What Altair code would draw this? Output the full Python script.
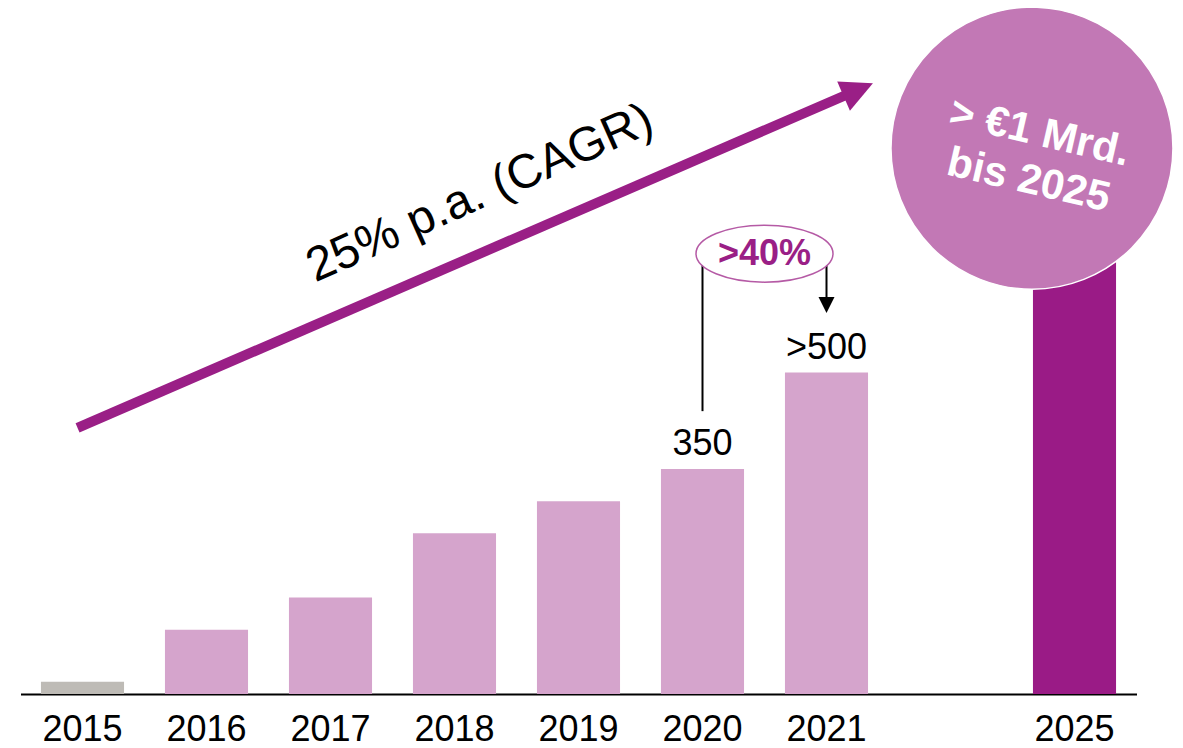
import altair as alt
import pandas as pd

# ---------------- data ----------------
years = ["2015", "2016", "2017", "2018", "2019", "2020", "2021", "2025"]
values = [19, 100, 150, 250, 300, 350, 500, 1000]
value_labels = ["", "", "", "", "", "350", ">500", ""]
bar_colors = ["#BEBBB6", "#D5A4CC", "#D5A4CC", "#D5A4CC", "#D5A4CC", "#D5A4CC", "#D5A4CC", "#9A1B86"]
slot_order = ["2015", "2016", "2017", "2018", "2019", "2020", "2021", " ", "2025"]

# annotation anchors in (slot, value) units
cagr_text = ["25% p.a. (CAGR)"]
cagr_pos = [3.706, 778]
arrow_tail = [0.46, 414]
arrow_head = [6.756, 940]
growth_text = [">40%"]
growth_pos = [6.0, 685]
conn_s = [5.5, 6.5]
conn_v = [670, 670]
conn_v2 = [440, 613]
conn_head = [6.5, 605]
target_pos = [8.157, 849]
target_text = ["> €1 Mrd.", "bis 2025"]

PURPLE = "#9A1F86"
FONT = "Liberation Sans"
W, H = 1116, 684
Y_MAX = 1064

bars_df = pd.DataFrame({"year": years, "value": values, "label": value_labels, "color": bar_colors})

y_scale = alt.Scale(domain=[0, Y_MAX], nice=False, zero=True)
band_scale = alt.Scale(domain=slot_order, paddingInner=0.33, paddingOuter=0.165)

x_band = alt.X(
    "year:N",
    sort=slot_order,
    scale=band_scale,
    axis=alt.Axis(
        title=None, labelAngle=0, ticks=False, tickSize=0, domainColor="#000000",
        domainWidth=2, labelFontSize=36, labelFont=FONT, labelColor="#000000",
        labelPadding=18, grid=False,
    ),
)

bars = alt.Chart(bars_df).mark_bar().encode(
    x=x_band,
    y=alt.Y("value:Q", scale=y_scale, axis=None),
    color=alt.Color("color:N", scale=None),
)

labels = alt.Chart(bars_df).transform_filter("datum.label != ''").mark_text(
    baseline="alphabetic", dy=-14, fontSize=36, font=FONT, color="#000000"
).encode(
    x=alt.X("year:N", sort=slot_order, scale=band_scale, axis=None),
    y=alt.Y("value:Q", scale=y_scale, axis=None),
    text="label:N",
)

def xs(field="s"):
    return alt.X(f"{field}:Q", scale=alt.Scale(domain=[0, 9], nice=False, zero=False), axis=None)

def yv(field="v"):
    return alt.Y(f"{field}:Q", scale=y_scale, axis=None)

# big arrow
shaft_df = pd.DataFrame({"s": [arrow_tail[0]], "v": [arrow_tail[1]], "s2": [arrow_head[0]], "v2": [arrow_head[1]]})
shaft = alt.Chart(shaft_df).mark_rule(strokeWidth=10, color=PURPLE, strokeCap="butt").encode(
    x=xs(), y=yv(), x2="s2:Q", y2="v2:Q"
)
head_df = pd.DataFrame({"s": [arrow_head[0]], "v": [arrow_head[1]]})
head = alt.Chart(head_df).mark_point(
    shape="M1,0L-1,-1L-1,1Z", size=1024, filled=True, opacity=1, color=PURPLE,
    strokeWidth=0, angle=336.56,
).encode(x=xs(), y=yv())

cagr_df = pd.DataFrame({"s": [cagr_pos[0]], "v": [cagr_pos[1]], "t": cagr_text})
cagr = alt.Chart(cagr_df).mark_text(
    fontSize=48, font=FONT, color="#000000", angle=336, align="center", baseline="middle"
).encode(x=xs(), y=yv(), text="t:N")

# connectors for >40%
conn_df = pd.DataFrame({"s": conn_s, "v": conn_v, "v2": conn_v2})
conn = alt.Chart(conn_df).mark_rule(strokeWidth=2, color="#000000").encode(
    x=xs(), y=yv(), y2="v2:Q"
)
chead_df = pd.DataFrame({"s": [conn_head[0]], "v": [conn_head[1]]})
chead = alt.Chart(chead_df).mark_point(
    shape="M-1,-1L1,-1L0,1Z", size=256, filled=True, opacity=1, color="#000000", strokeWidth=0
).encode(x=xs(), y=yv())

ell_df = pd.DataFrame({"s": [growth_pos[0]], "v": [growth_pos[1]]})
ellipse = alt.Chart(ell_df).mark_point(
    shape="M-1,0A1,0.416,0,1,1,1,0A1,0.416,0,1,1,-1,0Z", size=18769, filled=False,
    opacity=1, fill="#FFFFFF", fillOpacity=1, stroke="#B55AA5", strokeWidth=1.5,
).encode(x=xs(), y=yv())
gtxt_df = pd.DataFrame({"s": [growth_pos[0]], "v": [growth_pos[1]], "t": growth_text})
gtxt = alt.Chart(gtxt_df).mark_text(
    fontSize=36, font=FONT, fontWeight="bold", color=PURPLE, align="center", baseline="middle"
).encode(x=xs(), y=yv(), text="t:N")

# target circle
circ_df = pd.DataFrame({"s": [target_pos[0]], "v": [target_pos[1]]})
circle = alt.Chart(circ_df).mark_point(
    shape="circle", size=79524, filled=True, opacity=1, color="#C278B5",
    stroke="#FFFFFF", strokeWidth=1.5,
).encode(x=xs(), y=yv())
ctext = alt.Chart(circ_df).mark_text(
    fontSize=42, font=FONT, fontWeight="bold", color="#FFFFFF", angle=13,
    align="center", baseline="middle", lineHeight=49, dx=4, dy=-17,
).encode(x=xs(), y=yv(), text=alt.value(target_text))

chart = alt.layer(
    bars, labels, shaft, head, cagr, conn, chead, ellipse, gtxt, circle, ctext
).resolve_scale(x="independent").properties(
    width=W, height=H,
    autosize=alt.AutoSizeParams(type="none"),
    padding={"left": 12.5, "top": 2, "right": 38.5, "bottom": 54},
    background="#FFFFFF",
).configure_view(stroke=None)

chart.save("out.html", embed_options={"renderer": "svg", "actions": False})
